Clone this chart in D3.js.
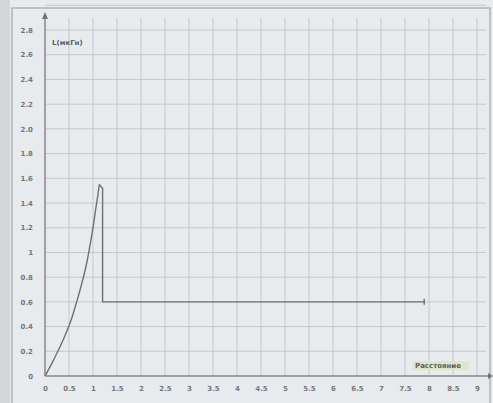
<!DOCTYPE html>
<html>
<head>
<meta charset="utf-8">
<script src="https://cdn.jsdelivr.net/npm/d3@7"></script>
<style>
body { margin: 0; background: #e9ecef; }
svg { display: block; }
</style>
</head>
<body>
<div id="chart"></div>
<script>
// size of the picture
var svgWidth = 493;
var svgHeight = 403;

// data
var riseX = [0, 0.14, 0.28, 0.42, 0.55, 0.66, 0.76, 0.85, 0.93, 1.0, 1.06, 1.1, 1.13];
var riseY = [0, 0.1, 0.21, 0.33, 0.46, 0.6, 0.74, 0.88, 1.04, 1.2, 1.36, 1.46, 1.55];
var stepX = [1.13, 1.2, 1.2, 7.9];
var stepY = [1.55, 1.52, 0.6, 0.6];

var xTicks = [0, 0.5, 1, 1.5, 2, 2.5, 3, 3.5, 4, 4.5, 5, 5.5, 6, 6.5, 7, 7.5, 8, 8.5, 9];
var xTickLabels = ["0", "0.5", "1", "1.5", "2", "2.5", "3", "3.5", "4", "4.5", "5", "5.5", "6", "6.5", "7", "7.5", "8", "8.5", "9"];
var yTicks = [0, 0.2, 0.4, 0.6, 0.8, 1, 1.2, 1.4, 1.6, 1.8, 2, 2.2, 2.4, 2.6, 2.8];
var yTickLabels = ["0", "0.2", "0.4", "0.6", "0.8", "1", "1.2", "1.4", "1.6", "1.8", "2.0", "2.2", "2.4", "2.6", "2.8"];
var yTitle = "L(мкГн)";
var xTitle = "Расстояние";

var svg = d3.select("#chart")
            .append("svg")
            .attr("width", svgWidth)
            .attr("height", svgHeight);

// background + frame
svg.append("rect")
   .attr("width", svgWidth).attr("height", svgHeight)
   .attr("fill", "#e8ebee");
svg.append("rect")
   .attr("width", 10).attr("height", svgHeight)
   .attr("fill", "#d4d7da");
svg.append("rect")
   .attr("x", 12).attr("y", 8)
   .attr("width", 478).attr("height", 400)
   .attr("fill", "none")
   .attr("stroke", "#aeb2b6")
   .attr("stroke-width", 1.5);

//scales
var x = d3.scaleLinear().domain([0, 9]).range([45, 477]);
var y = d3.scaleLinear().domain([0, 2.8]).range([376, 30]);

// grid
svg.append("g")
   .selectAll("line")
   .data(xTicks)
   .join("line")
   .attr("x1", d => x(d)).attr("x2", d => x(d))
   .attr("y1", 18).attr("y2", y(0))
   .attr("stroke", "#c3c8cd").attr("stroke-width", 1);

svg.append("g")
   .selectAll("line")
   .data(yTicks.concat([3]))
   .join("line")
   .attr("x1", x(0)).attr("x2", 486)
   .attr("y1", d => y(d)).attr("y2", d => y(d))
   .attr("stroke", "#c3c8cd").attr("stroke-width", 1);

// axes
var bottomAxis = d3.axisBottom(x)
                   .tickValues(xTicks)
                   .tickFormat((d, i) => xTickLabels[i])
                   .tickSize(0).tickPadding(10);
var leftAxis = d3.axisLeft(y)
                 .tickValues(yTicks)
                 .tickFormat((d, i) => yTickLabels[i])
                 .tickSize(0).tickPadding(12);

var gx = svg.append("g")
   .attr("transform", `translate(0, ${y(0)})`)
   .call(bottomAxis);
var gy = svg.append("g")
   .attr("transform", `translate(${x(0)}, 0)`)
   .call(leftAxis);

[gx, gy].forEach(function(g) {
  g.select(".domain").remove();
  g.selectAll("text")
   .attr("fill", "#73777b")
   .style("font-family", "DejaVu Sans")
   .style("font-size", "7px")
   .style("font-weight", "bold");
});

// axis lines with arrows
svg.append("line")
   .attr("x1", x(0)).attr("x2", 488)
   .attr("y1", y(0)).attr("y2", y(0))
   .attr("stroke", "#8a8e92").attr("stroke-width", 1.5);
svg.append("path")
   .attr("d", `M488,${y(0) - 3}L493,${y(0)}L488,${y(0) + 3}Z`)
   .attr("fill", "#707478");
svg.append("line")
   .attr("x1", x(0)).attr("x2", x(0))
   .attr("y1", y(0)).attr("y2", 14)
   .attr("stroke", "#8a8e92").attr("stroke-width", 1.5);
svg.append("path")
   .attr("d", `M${x(0) - 3},19L${x(0)},12L${x(0) + 3},19Z`)
   .attr("fill", "#707478");

// axis titles
svg.append("text")
   .attr("x", 52).attr("y", 45)
   .attr("fill", "#5a5e62")
   .style("font-family", "DejaVu Sans")
   .style("font-size", "7px")
   .style("font-weight", "bold")
   .text(yTitle);

svg.append("rect")
   .attr("x", 413).attr("y", 361)
   .attr("width", 56).attr("height", 9)
   .attr("fill", "#dfe6c8");
svg.append("text")
   .attr("x", 415).attr("y", 368)
   .attr("fill", "#5a5e62")
   .style("font-family", "DejaVu Sans")
   .style("font-size", "7px")
   .style("font-weight", "bold")
   .text(xTitle);

// data lines
var rise = riseX.map((d, i) => [d, riseY[i]]);
var step = stepX.map((d, i) => [d, stepY[i]]);

svg.append("path")
   .datum(rise)
   .attr("fill", "none")
   .attr("stroke", "#6c7075")
   .attr("stroke-width", 1.4)
   .attr("d", d3.line().x(d => x(d[0])).y(d => y(d[1])).curve(d3.curveCatmullRom));

svg.append("path")
   .datum(step)
   .attr("fill", "none")
   .attr("stroke", "#6c7075")
   .attr("stroke-width", 1.4)
   .attr("d", d3.line().x(d => x(d[0])).y(d => y(d[1])));

// end mark of the step line
var last = step[step.length - 1];
svg.append("line")
   .attr("x1", x(last[0])).attr("x2", x(last[0]))
   .attr("y1", y(last[1]) - 3).attr("y2", y(last[1]) + 3)
   .attr("stroke", "#6c7075").attr("stroke-width", 1.4);
</script>
</body>
</html>
